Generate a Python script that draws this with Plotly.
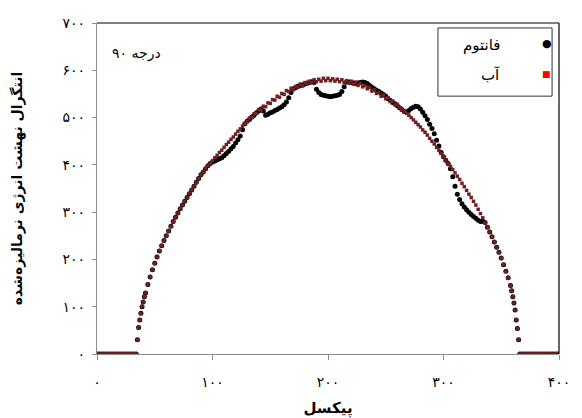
import plotly.graph_objects as go

# pixel positions (x axis)
pixel = [*range(0, 35, 2), *range(35, 42), *range(42, 359, 2), *range(359, 367), *range(368, 401, 2)]

zeros_left = [0] * 18
zeros_right = [0] * 17

edge_left = [30, 56, 72, 86, 100, 110, 121]
edge_right = [134, 121, 108, 93, 72, 54, 30, 0]

water_mid = [
    129, 147, 163, 178, 192, 205, 218, 229, 240, 250,
    260, 270, 280, 289, 298, 307, 315, 323, 331, 339,
    347, 355, 363, 371, 379, 385, 392, 398, 403, 409,
    415, 420, 426, 431, 437, 443, 448, 454, 459, 465,
    471, 476, 482, 487, 492, 499, 500, 508, 509, 517,
    516, 524, 523, 531, 530, 538, 537, 545, 543, 551,
    549, 557, 555, 562, 559, 566, 564, 571, 567, 574,
    571, 577, 574, 580, 576, 581, 577, 583, 578, 583,
    578, 582, 577, 581, 576, 580, 574, 578, 573, 577,
    571, 575, 568, 572, 565, 568, 561, 564, 556, 559,
    551, 553, 545, 548, 540, 542, 534, 535, 527, 528,
    521, 517, 513, 509, 505, 500, 495, 490, 485, 480,
    474, 469, 463, 456, 450, 444, 437, 431, 424, 417,
    410, 403, 397, 390, 383, 376, 369, 361, 354, 346,
    338, 331, 323, 315, 306, 297, 288, 278, 268, 258,
    248, 237, 226, 215, 203, 189, 175, 161, 145,
]

phantom_mid = [
    129, 147, 163, 178, 192, 205, 218, 229, 240, 250,
    260, 270, 280, 289, 298, 307, 315, 323, 331, 339,
    347, 355, 363, 371, 379, 385, 392, 398, 403, 406,
    408, 411, 413, 415, 419, 424, 429, 434, 439, 446,
    453, 461, 474, 487, 492, 496, 501, 505, 510, 514,
    518, 514, 505, 507, 510, 512, 515, 517, 520, 523,
    527, 533, 542, 553, 561, 563, 566, 568, 569, 571,
    573, 574, 576, 574, 560, 553, 549, 547, 546, 545,
    544, 545, 546, 547, 549, 555, 565, 575, 575, 574,
    573, 572, 573, 574, 575, 574, 572, 568, 564, 561,
    558, 555, 552, 549, 545, 540, 536, 532, 529, 525,
    521, 517, 513, 512, 515, 519, 522, 524, 523, 518,
    511, 504, 496, 486, 477, 466, 452, 440, 426, 417,
    410, 403, 392, 375, 355, 338, 327, 318, 311, 305,
    300, 295, 291, 287, 283, 280, 281, 278, 268, 258,
    248, 237, 226, 215, 203, 189, 175, 161, 145,
]

water = zeros_left + edge_left + water_mid + edge_right + zeros_right
phantom = zeros_left + edge_left + phantom_mid + edge_right + zeros_right

x_tickvals = [0, 100, 200, 300, 400]
x_ticktext = ["۰", "۱۰۰", "۲۰۰", "۳۰۰", "۴۰۰"]
y_tickvals = [0, 100, 200, 300, 400, 500, 600, 700]
y_ticktext = ["۰", "۱۰۰", "۲۰۰", "۳۰۰", "۴۰۰", "۵۰۰", "۶۰۰", "۷۰۰"]

FONT = "DejaVu Sans"

fig = go.Figure()
fig.add_trace(go.Scatter(
    x=pixel, y=phantom, mode="markers", name="فانتوم",
    marker=dict(symbol="circle", size=5, color="#000000", line=dict(width=0)),
    showlegend=False,
))
fig.add_trace(go.Scatter(
    x=pixel, y=water, mode="markers", name="آب",
    marker=dict(symbol="square", size=3.5, color="#702020", line=dict(width=0)),
    showlegend=False,
))

axis_gray = "#8c8c8c"
fig.update_xaxes(
    range=[0, 400], tickvals=x_tickvals, ticktext=x_ticktext,
    showgrid=False, zeroline=False, showline=True, linecolor=axis_gray, linewidth=1.2,
    ticks="outside", ticklen=5, tickcolor=axis_gray, ticklabelstandoff=10,
    tickfont=dict(family=FONT, size=14, color="#000"),
    title=dict(text="<b>پیکسل</b>", font=dict(family=FONT, size=15, color="#000"), standoff=14),
    automargin=False,
)
fig.update_yaxes(
    range=[0, 700], tickvals=y_tickvals, ticktext=y_ticktext,
    showgrid=False, zeroline=False, showline=True, linecolor=axis_gray, linewidth=1.2,
    ticks="outside", ticklen=4, tickcolor=axis_gray, ticklabelstandoff=4,
    tickfont=dict(family=FONT, size=14, color="#000"),
    title=dict(text="<b>انتگرال نهشت انرژی نرمالیزه‌شده</b>", font=dict(family=FONT, size=14, color="#000"), standoff=36),
    automargin=False,
)

shapes = [
    dict(type="line", xref="paper", yref="paper", x0=0, x1=1, y0=1, y1=1, line=dict(color="#000", width=1.2)),
    dict(type="line", xref="paper", yref="paper", x0=1, x1=1, y0=0, y1=1, line=dict(color="#000", width=1.2)),
    dict(type="rect", xref="paper", yref="paper", x0=0.738, x1=0.985, y0=0.779, y1=0.985,
         line=dict(color="#333", width=1), fillcolor="#fff"),
]

annotations = [
    dict(text="۹۰ درجه", xref="paper", yref="paper", x=0.028, y=0.909, xanchor="left", yanchor="middle",
         showarrow=False, font=dict(family=FONT, size=14, color="#000")),
    dict(text="فانتوم", xref="paper", yref="paper", x=0.877, y=0.935, xanchor="right", yanchor="middle",
         showarrow=False, font=dict(family=FONT, size=15, color="#000")),
    dict(text="آب", xref="paper", yref="paper", x=0.877, y=0.843, xanchor="right", yanchor="middle",
         showarrow=False, font=dict(family=FONT, size=15, color="#000")),
    dict(text="●", xref="paper", yref="paper", x=0.974, y=0.937, xanchor="center", yanchor="middle",
         showarrow=False, font=dict(family=FONT, size=11, color="#000")),
    dict(text="■", xref="paper", yref="paper", x=0.974, y=0.846, xanchor="center", yanchor="middle",
         showarrow=False, font=dict(family=FONT, size=9, color="#ff0000")),
]

fig.update_layout(
    width=574, height=410,
    margin=dict(l=89, r=23, t=15, b=64, autoexpand=False),
    paper_bgcolor="#fff", plot_bgcolor="#fff",
    shapes=shapes, annotations=annotations,
    font=dict(family=FONT),
)

fig.write_html("out.html")
